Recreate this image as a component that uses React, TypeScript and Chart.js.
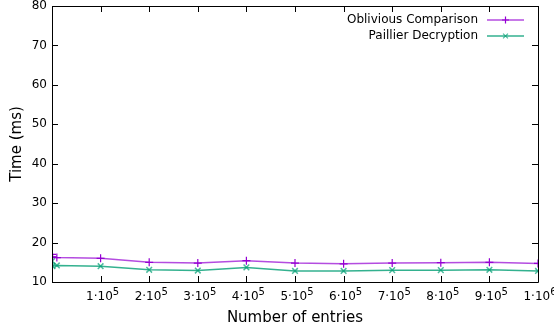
import React, { useEffect, useRef } from "react";
import { Chart, registerables } from "chart.js";

Chart.register(...registerables);

const entries = [100, 1000, 10000, 100000, 200000, 300000, 400000, 500000, 600000, 700000, 800000, 900000, 1000000];
const obliviousComparison = [17.0, 16.4, 16.2, 16.0, 15.0, 14.8, 15.4, 14.8, 14.6, 14.8, 14.9, 15.0, 14.7];
const paillierDecryption = [15.3, 14.0, 14.2, 14.0, 13.1, 12.9, 13.7, 12.8, 12.8, 13.0, 13.0, 13.1, 12.8];
const seriesNames = ["Oblivious Comparison", "Paillier Decryption"];
const xTickValues = [100000, 200000, 300000, 400000, 500000, 600000, 700000, 800000, 900000, 1000000];
const xTickMantissas = ["1", "2", "3", "4", "5", "6", "7", "8", "9", "1"];
const xTickExponents = ["5", "5", "5", "5", "5", "5", "5", "5", "5", "6"];

const FONT = "'DejaVu Sans', Verdana, sans-serif";
const PURPLE = "#9400d3";
const GREEN = "#009e73";

const framePlugin = {
  id: "frame",
  afterDatasetsDraw(chart: any) {
    const { ctx, chartArea: a, scales } = chart;
    ctx.save();
    ctx.strokeStyle = "#000";
    ctx.lineWidth = 1;
    ctx.beginPath();
    ctx.rect(Math.round(a.left) + 0.5, Math.round(a.top) + 0.5, Math.round(a.right - a.left), Math.round(a.bottom - a.top));
    ctx.stroke();
    const tl = 6;
    ctx.beginPath();
    scales.x.ticks.forEach((t: any) => {
      const px = Math.round(scales.x.getPixelForValue(t.value)) + 0.5;
      ctx.moveTo(px, a.bottom); ctx.lineTo(px, a.bottom - tl);
      ctx.moveTo(px, a.top); ctx.lineTo(px, a.top + tl);
    });
    scales.y.ticks.forEach((t: any) => {
      const py = Math.round(scales.y.getPixelForValue(t.value)) + 0.5;
      ctx.moveTo(a.left, py); ctx.lineTo(a.left + tl, py);
      ctx.moveTo(a.right, py); ctx.lineTo(a.right - tl, py);
    });
    ctx.stroke();
    // x tick labels with superscript exponent
    ctx.fillStyle = "#000";
    ctx.textBaseline = "middle";
    ctx.textAlign = "left";
    xTickValues.forEach((v, i) => {
      const px = scales.x.getPixelForValue(v) + 2;
      const base = `${xTickMantissas[i]}·10`;
      ctx.font = `12px ${FONT}`;
      const wb = ctx.measureText(base).width;
      ctx.font = `10px ${FONT}`;
      const we = ctx.measureText(xTickExponents[i]).width;
      const x0 = px - (wb + we) / 2;
      ctx.font = `12px ${FONT}`;
      ctx.fillText(base, x0, a.bottom + 15);
      ctx.font = `10px ${FONT}`;
      ctx.fillText(xTickExponents[i], x0 + wb, a.bottom + 10);
    });
    // legend
    ctx.font = `12px ${FONT}`;
    ctx.textAlign = "right";
    ctx.textBaseline = "middle";
    chart.data.datasets.forEach((ds: any, i: number) => {
      const y = 20 + i * 16;
      const textRight = a.right - 60;
      ctx.fillStyle = "#000";
      ctx.fillText(ds.label, textRight, y);
      const x0 = textRight + 9, x1 = textRight + 46;
      ctx.strokeStyle = ds.borderColor;
      ctx.lineWidth = 1.5;
      ctx.beginPath(); ctx.moveTo(x0, y); ctx.lineTo(x1, y); ctx.stroke();
      const cx = (x0 + x1) / 2, r = 3.5;
      ctx.strokeStyle = ds.pointBorderColor;
      ctx.lineWidth = 1.2;
      ctx.beginPath();
      if (ds.pointStyle === "cross") {
        ctx.moveTo(cx, y - r); ctx.lineTo(cx, y + r); ctx.moveTo(cx - r, y); ctx.lineTo(cx + r, y);
      } else {
        ctx.moveTo(cx - r * 0.7, y - r * 0.7); ctx.lineTo(cx + r * 0.7, y + r * 0.7);
        ctx.moveTo(cx - r * 0.7, y + r * 0.7); ctx.lineTo(cx + r * 0.7, y - r * 0.7);
      }
      ctx.stroke();
    });
    ctx.restore();
  },
};

export default function App() {
  const ref = useRef<HTMLCanvasElement>(null);
  useEffect(() => {
    document.body.style.margin = "0";
    const chart = new Chart(ref.current!, {
      type: "line",
      data: {
        datasets: [
          {
            label: seriesNames[0],
            data: entries.map((x, i) => ({ x, y: obliviousComparison[i] })),
            borderColor: "rgba(148,0,211,0.7)",
            backgroundColor: PURPLE,
            pointBorderColor: PURPLE,
            borderWidth: 1.5,
            pointStyle: "cross",
            pointRadius: 4,
            pointBorderWidth: 1.2,
          },
          {
            label: seriesNames[1],
            data: entries.map((x, i) => ({ x, y: paillierDecryption[i] })),
            borderColor: "rgba(0,158,115,0.8)",
            backgroundColor: GREEN,
            pointBorderColor: "rgba(0,158,115,0.7)",
            borderWidth: 1.5,
            pointStyle: "crossRot",
            pointRadius: 4,
            pointBorderWidth: 1.5,
          },
        ],
      },
      options: {
        animation: false,
        responsive: false,
        layout: { padding: { top: 6, right: 16, left: 0, bottom: 0 } },
        plugins: { legend: { display: false }, tooltip: { enabled: false } },
        scales: {
          x: {
            type: "linear",
            min: 0,
            max: 1000000,
            grid: { display: false, drawTicks: false },
            border: { display: false },
            ticks: {
              stepSize: 100000,
              autoSkip: false,
              maxRotation: 0,
              display: false,
            },
            title: {
              display: true,
              text: "Number of entries",
              color: "#000",
              font: { family: FONT, size: 15 },
              padding: { top: 0, bottom: 6 },
            },
            afterFit: (s: any) => { s.height = 51; s.paddingLeft = 0; s.paddingRight = 0; },
          },
          y: {
            type: "linear",
            min: 10,
            max: 80,
            grid: { display: false, drawTicks: false },
            border: { display: false },
            ticks: {
              stepSize: 10,
              padding: 5,
              color: "#000",
              font: { family: FONT, size: 12 },
            },
            title: {
              display: true,
              text: "Time (ms)",
              color: "#000",
              font: { family: FONT, size: 15 },
              padding: { top: 8, bottom: 0 },
            },
            afterFit: (s: any) => { s.width = 52; s.paddingTop = 0; s.paddingBottom = 0; },
          },
        },
      },
      plugins: [framePlugin],
    } as any);
    return () => chart.destroy();
  }, []);
  return <canvas ref={ref} width={554} height={333} style={{ display: "block" }} />;
}
